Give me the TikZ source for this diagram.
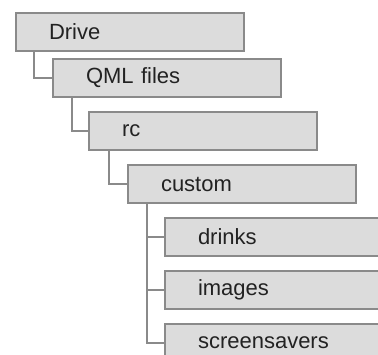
\documentclass[tikz,border=0pt]{standalone}
\usepackage{fontspec}
\setmainfont{Liberation Sans}
\usetikzlibrary{calc}
\definecolor{boxfill}{HTML}{DCDCDC}
\definecolor{boxline}{HTML}{8A8A8A}
\definecolor{txt}{HTML}{222222}
\begin{document}
\begin{tikzpicture}[x=1pt,y=-1pt,
  folder/.style={draw=boxline, line width=2pt, fill=boxfill, anchor=north west,
    minimum height=38pt, inner xsep=33pt, inner ysep=0pt, text width=162pt, align=left,
    text=txt, font=\fontsize{22}{25}\selectfont},
  link/.style={draw=boxline, line width=2pt}]
\useasboundingbox (0,0) rectangle (378,355);
\clip (0,0) rectangle (378,355);
\fill[white] (0,0) rectangle (378,355);
\node[folder] (drive) at (15,12) {Drive};
\node[folder] (qml) at (52,58) {QML files};
\node[folder] (rc) at (88,111) {rc};
\node[folder] (custom) at (127,164) {custom};
\node[folder] (drinks) at (164,217) {drinks};
\node[folder] (images) at (164,270) {images};
\node[folder] (screens) at (164,323) {screensavers};
\draw[link] ($(drive.south west)+(19,0)$) |- (qml.west);
\draw[link] ($(qml.south west)+(20,0)$) |- (rc.west);
\draw[link] ($(rc.south west)+(21,0)$) |- (custom.west);
\draw[link] ($(custom.south west)+(20,0)$) |- (drinks.west);
\draw[link] ($(custom.south west)+(20,0)$) |- (images.west);
\draw[link] ($(custom.south west)+(20,0)$) |- (screens.west);
\end{tikzpicture}
\end{document}
